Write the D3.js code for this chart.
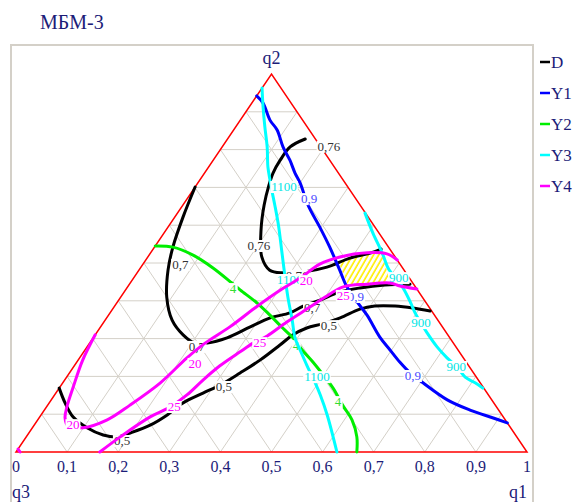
<!DOCTYPE html>
<html>
<head>
<meta charset="utf-8">
<script src="https://cdn.jsdelivr.net/npm/d3@7"></script>
<style>
  body { margin: 0; background: #fff; }
  svg { display: block; }
</style>
</head>
<body>
<div id="chart"></div>
<script>
// Ternary contour chart, points are [q1, q2] (q3 = 1 - q1 - q2)

const tickLabels = ["0", "0,1", "0,2", "0,3", "0,4", "0,5", "0,6", "0,7", "0,8", "0,9", "1"];
const seriesNames = ["D", "Y1", "Y2", "Y3", "Y4"];

const curvesD = [
  [[0.152,0.828],[0.133,0.807],[0.131,0.772],[0.134,0.738],[0.142,0.706],[0.159,0.653],[0.186,0.587],
   [0.223,0.516],[0.256,0.481],[0.286,0.474],[0.324,0.476],[0.364,0.489],[0.397,0.513],[0.430,0.526],[0.446,0.537]],
  [[0.000,0.701],[0.016,0.622],[0.036,0.542],[0.057,0.481],[0.090,0.410],[0.131,0.349],[0.172,0.310],
   [0.206,0.288],[0.230,0.288],[0.262,0.302],[0.293,0.331],[0.320,0.355],[0.352,0.368],[0.369,0.386],
   [0.394,0.402],[0.422,0.423],[0.456,0.434],[0.501,0.442],[0.549,0.444]],
  [[0.000,0.169],[0.031,0.130],[0.065,0.093],[0.107,0.064],[0.148,0.045],[0.180,0.040],[0.198,0.050],
   [0.227,0.071],[0.247,0.098],[0.262,0.130],[0.288,0.156],[0.311,0.177],[0.334,0.209],[0.356,0.243],
   [0.375,0.283],[0.387,0.310],[0.405,0.328],[0.430,0.339],[0.457,0.355],[0.484,0.378],[0.509,0.386],
   [0.549,0.386],[0.586,0.381],[0.624,0.373]]
];
const labelsD = [
  ["0,76", 0.209, 0.807], ["0,76", 0.203, 0.545], ["0,76", 0.317, 0.466],
  ["0,7", 0.074, 0.495], ["0,7", 0.215, 0.278], ["0,7", 0.389, 0.381],
  ["0,5", 0.193, 0.029], ["0,5", 0.321, 0.172], ["0,5", 0.446, 0.333]
];

const curvesY1 = [
  [[0.000,0.942],[0.022,0.923],[0.058,0.878],[0.085,0.852],[0.119,0.807],[0.150,0.772],[0.177,0.738],
   [0.200,0.712],[0.245,0.653],[0.297,0.595],[0.343,0.542],[0.393,0.481],[0.429,0.437],[0.469,0.397],
   [0.506,0.362],[0.560,0.304],[0.597,0.270],[0.632,0.238],[0.667,0.209],[0.705,0.183],[0.775,0.138],
   [0.833,0.111],[0.889,0.090],[0.923,0.077]]
];
const labelsY1 = [["0,9", 0.239, 0.669], ["0,9", 0.460, 0.410], ["0,9", 0.676, 0.201]];

const curvesY2 = [
  [[0.000,0.545],[0.036,0.542],[0.086,0.521],[0.142,0.487],[0.199,0.447],[0.224,0.429],[0.275,0.394],
   [0.316,0.362],[0.358,0.328],[0.391,0.302],[0.425,0.270],[0.462,0.238],[0.499,0.204],[0.536,0.169],
   [0.579,0.122],[0.615,0.085],[0.647,0.040],[0.667,0.000]]
];
const labelsY2 = [["4", 0.209, 0.431], ["4", 0.408, 0.280], ["4", 0.564, 0.132]];

const curvesY3 = [
  [[0.000,0.963],[0.027,0.913],[0.057,0.860],[0.088,0.807],[0.116,0.754],[0.137,0.720],[0.154,0.693],
   [0.180,0.653],[0.213,0.601],[0.257,0.527],[0.292,0.468],[0.327,0.410],[0.366,0.349],[0.395,0.302],
   [0.421,0.270],[0.454,0.230],[0.494,0.183],[0.520,0.151],[0.560,0.098],[0.628,0.000]],
  [[0.367,0.632],[0.409,0.579],[0.453,0.527],[0.489,0.482],[0.520,0.455],[0.545,0.429],[0.573,0.397],
   [0.597,0.368],[0.622,0.341],[0.647,0.315],[0.685,0.278],[0.719,0.249],[0.751,0.225],[0.780,0.198],
   [0.807,0.183],[0.829,0.169]]
];
const labelsY3 = [
  ["1100", 0.174, 0.701], ["1100", 0.308, 0.455], ["1100", 0.490, 0.198],
  ["900", 0.519, 0.460], ["900", 0.622, 0.341], ["900", 0.749, 0.225]
];

const curvesY4 = [
  [[0.000,0.310],[0.009,0.243],[0.026,0.172],[0.040,0.119],[0.051,0.090],[0.067,0.069],[0.099,0.064],
   [0.136,0.085],[0.161,0.124],[0.191,0.183],[0.210,0.249],[0.226,0.288],[0.253,0.331],[0.277,0.381],
   [0.305,0.431],[0.326,0.460],[0.346,0.497],[0.376,0.516],[0.424,0.527],[0.464,0.524],[0.492,0.508]],
  [[0.164,0.000],[0.184,0.040],[0.216,0.093],[0.242,0.119],[0.259,0.151],[0.271,0.191],[0.285,0.228],
   [0.306,0.265],[0.320,0.288],[0.338,0.307],[0.358,0.344],[0.384,0.384],[0.400,0.410],[0.422,0.437],
   [0.465,0.444],[0.508,0.447],[0.532,0.439],[0.569,0.431]],
  [[0.000,0.008],[0.008,0.000]]
];
const labelsY4 = [
  ["20", 0.076, 0.071], ["20", 0.234, 0.233], ["20", 0.342, 0.452],
  ["25", 0.250, 0.119], ["25", 0.333, 0.288], ["25", 0.434, 0.413]
];

// feasible region (hatched)
const region = [[0.379,0.503],[0.410,0.516],[0.450,0.529],[0.510,0.447],[0.429,0.442]];

const series = [
  { name: "D",  curves: curvesD,  labels: labelsD,  line: "#000000", text: "#333333" },
  { name: "Y1", curves: curvesY1, labels: labelsY1, line: "#0000ff", text: "#4a4aff" },
  { name: "Y2", curves: curvesY2, labels: labelsY2, line: "#00ee00", text: "#33dd33" },
  { name: "Y3", curves: curvesY3, labels: labelsY3, line: "#00ffff", text: "#00e5e5" },
  { name: "Y4", curves: curvesY4, labels: labelsY4, line: "#ff00ff", text: "#ff00ff" }
];

const width = 582, height = 502;
const navy = "#1c1c78";
const gridColor = "#d4d0c8";
const serif = "'Liberation Serif', 'Times New Roman', Times, 'DejaVu Serif', serif";

const svg = d3.select("#chart").append("svg")
  .attr("width", width)
  .attr("height", height)
  .attr("font-family", serif);

const x = d3.scaleLinear().domain([0, 1]).range([16, 527]);
const y = d3.scaleLinear().domain([0, 1]).range([452, 74]);
const proj = p => [x(p[0] + p[1] / 2), y(p[1])];

// title
svg.append("text")
  .attr("x", 40).attr("y", 29)
  .attr("fill", navy)
  .attr("font-family", serif)
  .style("font-size", "20px")
  .text("МБМ-3");

// frame
svg.append("rect")
  .attr("x", 11).attr("y", 45)
  .attr("width", 522).attr("height", 470)
  .attr("fill", "none")
  .attr("stroke", gridColor)
  .attr("stroke-width", 2);

// grid
const grid = svg.append("g").attr("stroke", gridColor).attr("stroke-width", 1);
d3.range(1, 10).forEach(i => {
  const c = i / 10;
  const segs = [
    [[0, c], [1 - c, c]],      // q2 const
    [[c, 0], [c, 1 - c]],      // q1 const
    [[1 - c, 0], [0, 1 - c]]   // q3 const
  ];
  segs.forEach(s => {
    const a = proj(s[0]), b = proj(s[1]);
    grid.append("line")
      .attr("x1", a[0]).attr("y1", a[1])
      .attr("x2", b[0]).attr("y2", b[1]);
  });
});

// triangle border
svg.append("path")
  .attr("d", d3.line()([[0, 0], [1, 0], [0, 1]].map(proj)) + "Z")
  .attr("fill", "none")
  .attr("stroke", "#ff0000")
  .attr("stroke-width", 1.5);

// hatched region
const defs = svg.append("defs");
const pat = defs.append("pattern")
  .attr("id", "hatch")
  .attr("patternUnits", "userSpaceOnUse")
  .attr("width", 4.5).attr("height", 4.5)
  .attr("patternTransform", "rotate(30)");
pat.append("rect").attr("width", 4.5).attr("height", 4.5).attr("fill", "#ffffff");
pat.append("line")
  .attr("x1", 1).attr("y1", 0).attr("x2", 1).attr("y2", 4.5)
  .attr("stroke", "#ffee00").attr("stroke-width", 1.6);

svg.append("path")
  .attr("d", d3.line()(region.map(proj)) + "Z")
  .attr("fill", "url(#hatch)");

// contours and their labels
const lineGen = d3.line().curve(d3.curveCatmullRom.alpha(0.5));
series.forEach(s => {
  const g = svg.append("g");
  s.curves.forEach(c => {
    g.append("path")
      .attr("d", lineGen(c.map(proj)))
      .attr("fill", "none")
      .attr("stroke", s.line)
      .attr("stroke-width", 3)
      .attr("stroke-linejoin", "round")
      .attr("stroke-linecap", "round");
  });
  s.labels.forEach(l => {
    const p = proj([l[1], l[2]]);
    const t = g.append("text")
      .attr("x", p[0]).attr("y", p[1] + 4)
      .attr("text-anchor", "middle")
      .attr("fill", s.text)
      .attr("font-family", serif)
      .style("font-size", "13px")
      .text(l[0]);
    const bb = t.node().getBBox();
    g.insert("rect", () => t.node())
      .attr("x", bb.x - 1).attr("y", bb.y + 2)
      .attr("width", bb.width + 2).attr("height", bb.height - 3)
      .attr("fill", "#ffffff");
  });
});

// bottom tick labels
svg.append("g").selectAll("text")
  .data(tickLabels)
  .join("text")
  .attr("x", (d, i) => x(i / 10))
  .attr("y", 472)
  .attr("text-anchor", "middle")
  .attr("fill", navy)
  .attr("font-family", serif)
  .style("font-size", "16px")
  .text(d => d);

// vertex names
svg.append("text").attr("x", x(0.5)).attr("y", 64).attr("text-anchor", "middle")
  .attr("fill", navy).attr("font-family", serif).style("font-size", "18px").text("q2");
svg.append("text").attr("x", 12).attr("y", 498)
  .attr("fill", navy).attr("font-family", serif).style("font-size", "18px").text("q3");
svg.append("text").attr("x", 509).attr("y", 498)
  .attr("fill", navy).attr("font-family", serif).style("font-size", "18px").text("q1");

// legend
const legend = svg.append("g").selectAll("g")
  .data(series)
  .join("g")
  .attr("transform", (d, i) => `translate(540, ${62 + i * 31})`);
legend.append("line")
  .attr("x1", 0).attr("x2", 10)
  .attr("stroke", d => d.line)
  .attr("stroke-width", 2.5);
legend.append("text")
  .attr("x", 11).attr("y", 6)
  .attr("fill", navy)
  .attr("font-family", serif)
  .style("font-size", "17px")
  .text(d => d.name);
</script>
</body>
</html>
